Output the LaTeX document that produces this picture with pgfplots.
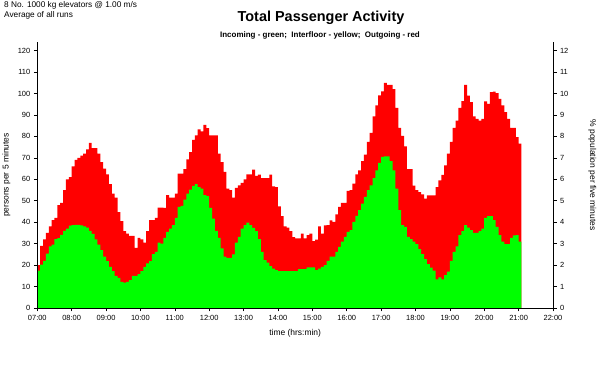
\documentclass[border=0pt]{standalone}
\usepackage{pgfplots}
\usepackage{pgfplotstable}
\usepackage{fontspec}
\setmainfont{Liberation Sans}
\pgfplotsset{compat=1.18}
\definecolor{ingreen}{RGB}{0,255,0}
\definecolor{outred}{RGB}{255,0,0}
% r = total (incoming + interfloor + outgoing), g = incoming; one row per 5 minutes from 07:00
\pgfplotstableread{
r g
20 17.4
29 20.2
32 22
35 25.3
38 28.7
41 29.5
42 32.1
48 32.6
49 34.1
55 36
60 37
61 38.4
66 38.6
69 38.8
70 38.8
71 38.5
72 38
74 37.5
77 36
74.5 34.5
74.5 32
72 29.5
68 27
65 24
62.3 21.9
57.7 19.2
53.3 17.2
51.5 15
44.7 14.1
40.5 12.2
35.8 11.8
34.7 12.2
33.6 13
33.6 15
28 15
32.7 15.8
32 17.2
30.5 19.2
35.8 20.8
41 21.9
41 25.1
42 26.2
46.8 30.5
46.8 30
46.7 32.7
52.6 35.5
51.5 37
51.5 38.6
53.3 42
62.6 47.1
62.6 47.6
64.7 50.5
69.3 53.3
72.7 55.2
78.4 56.9
80.5 57.7
83.3 56.4
82.3 55.7
85.4 52.6
83.9 52.1
80.5 46.7
80.5 41.7
80.5 36
72 32.7
68 27.8
63.4 23.9
55.7 23.4
55 23.4
51.5 25
56 30.5
57.2 33.2
58.3 37
60 38.6
62.3 39.8
62.3 38.6
64.5 37.4
61.6 35.8
62.2 32.1
60.6 26.2
60.6 22.3
60.6 21.2
62.2 19.5
56.7 18.4
56.4 17.7
47.4 17.2
42.8 17.2
38.1 17.2
37.5 17.2
35.8 17.2
33 17.2
32.4 17.2
32.4 18.1
34.7 18.1
32.4 18.1
34 18.9
34.7 18.9
31.2 18.9
31.9 17.7
38.1 18.4
34.7 19.2
38.5 20
38.6 22
40.9 23.9
40.2 23.9
43.7 26.2
47.1 28.5
49 30.9
49 33.2
54.6 35.5
55 36.3
58 40.2
62.3 42.9
64.2 45.6
68.5 48.7
71.5 51.8
77.4 54.9
81.6 57.2
89.3 60.6
94.4 64.2
99.1 67.6
101 70.4
105 70.7
104 70.7
104 68.5
102 64.2
93.3 55.7
84 45.6
80.2 38.6
75.3 37.8
64.7 33.2
64.7 32.1
57 30.9
55 29.8
54 27.4
53 25.1
51 22.8
52.5 20.5
52.5 18.8
52.5 17.4
56.4 13.3
59.5 14.3
62 13.3
66.5 15.3
72 16.9
77.4 22
84 26.2
87.4 28.7
93.3 34
96.4 35.8
104 38.6
99 37.5
96 36.3
89.3 35
88.2 35
87.4 35.8
88.2 37
96.3 42
95.2 42.8
100.6 42.8
100.9 41
100.2 37.8
97.5 34
94.4 30.9
91.3 29.8
88.2 29.8
84 32.7
84 33.8
79.7 34
76.6 30.9
76.6 30.9
}\activity

\begin{document}
\begin{tikzpicture}
\path[use as bounding box] (0bp,0bp) rectangle (602bp,371bp);
\node[anchor=west,font=\fontsize{8.3}{9}\selectfont,inner sep=0pt] at (4bp,365.5bp) {8 No. 1000 kg elevators @ 1.00 m/s};
\node[anchor=west,font=\fontsize{8.3}{9}\selectfont,inner sep=0pt] at (4bp,356bp) {Average of all runs};
\node[font=\bfseries\fontsize{14.5}{16}\selectfont,inner sep=0pt] at (321bp,353bp) {Total Passenger Activity};
\node[font=\bfseries\fontsize{8}{9}\selectfont,inner sep=0pt] at (320bp,336bp) {Incoming - green;\ \ Interfloor - yellow;\ \ Outgoing - red};
\begin{axis}[
  at={(37.3bp,63bp)}, anchor=origin,
  scale only axis, width=515.7bp, height=266bp,
  xmin=0, xmax=180, ymin=0, ymax=124,
  axis x line*=bottom, axis y line*=left,
  axis line style={line width=0.8bp, black},
  axis on top,
  tick align=outside, major tick length=3.5bp,
  tick style={black, line width=0.6bp},
  xtick={0,12,...,180},
  xticklabels={07:00,08:00,09:00,10:00,11:00,12:00,13:00,14:00,15:00,16:00,17:00,18:00,19:00,20:00,21:00,22:00},
  ytick={0,10,...,120},
  /pgf/number format/assume math mode=true,
  tick label style={font=\fontsize{7.5}{9}\selectfont},
  xlabel={time (hrs:min)},
  ylabel={persons per 5 minutes},
  every axis x label/.style={at={(axis description cs:0.5,-0.094)}, anchor=center, font=\fontsize{8.5}{10}\selectfont},
  every axis y label/.style={at={(axis description cs:-0.060,0.5)}, rotate=90, anchor=center, font=\fontsize{8.5}{10}\selectfont},
]
\addplot[const plot, fill=outred, draw=none] table[x expr=\coordindex, y=r] {\activity} \closedcycle;
\addplot[const plot, fill=ingreen, draw=none] table[x expr=\coordindex, y=g] {\activity} \closedcycle;
\end{axis}
\begin{axis}[
  at={(37.3bp,63bp)}, anchor=origin,
  scale only axis, width=515.7bp, height=266bp,
  xmin=0, xmax=180, ymin=0, ymax=12.4,
  axis y line*=right, axis x line=none,
  axis line style={line width=0.8bp, black},
  tick align=outside, major tick length=3.5bp,
  tick style={black, line width=0.6bp},
  ytick={0,1,...,12},
  /pgf/number format/assume math mode=true,
  tick label style={font=\fontsize{7.5}{9}\selectfont},
  ylabel={\% population per five minutes},
  every axis y label/.style={at={(axis description cs:1.076,0.5)}, rotate=-90, anchor=center, font=\fontsize{8.5}{10}\selectfont},
]
\end{axis}
\end{tikzpicture}
\end{document}
